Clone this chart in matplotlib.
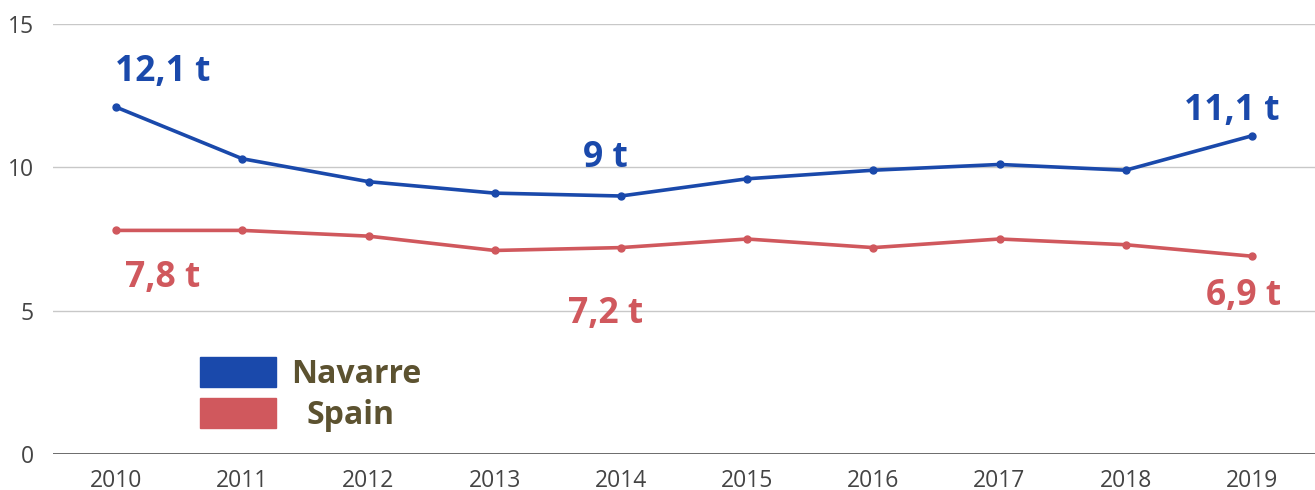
import matplotlib
matplotlib.use("Agg")
import matplotlib.pyplot as plt
from matplotlib.patches import Rectangle

years = ["2010", "2011", "2012", "2013", "2014", "2015", "2016", "2017", "2018", "2019"]
navarre = [12.1, 10.3, 9.5, 9.1, 9.0, 9.6, 9.9, 10.1, 9.9, 11.1]
spain = [7.8, 7.8, 7.6, 7.1, 7.2, 7.5, 7.2, 7.5, 7.3, 6.9]

# which points get a value label, and the label centre offset (points)
navarre_labels = {0: (33.5, 25.5), 4: (-11, 27.5), 9: (-14.5, 17.5)}
spain_labels = {0: (33.5, -34.5), 4: (-11, -47.5), 9: (-6, -28.5)}

BLUE = "#1a49ab"
RED = "#d0585d"
LEGEND_TXT = "#5c5230"

plt.rcParams["font.family"] = ["Open Sans", "DejaVu Sans"]

fig = plt.figure(figsize=(13.15, 4.9), dpi=100)
ax = fig.add_axes([53 / 1315, 36 / 490, 1 - 53 / 1315, (454 - 24) / 490])

x = list(range(len(years)))
ax.plot(x, navarre, color=BLUE, lw=2.6, marker="o", ms=5, zorder=3)
ax.plot(x, spain, color=RED, lw=2.6, marker="o", ms=5, zorder=3)

def fmt(v):
    s = ("%.1f" % v).rstrip("0").rstrip(".")
    return s.replace(".", ",") + " t"

for series, labels, col in ((navarre, navarre_labels, BLUE), (spain, spain_labels, RED)):
    for i, (dx, dy) in labels.items():
        ax.annotate(fmt(series[i]), (i, series[i]), xytext=(dx, dy), textcoords="offset points",
                    ha="center", va="center", fontsize=25.5, fontweight="bold", color=col)

ax.set_xlim(-0.5, len(years) - 0.5)
ax.set_ylim(0, 15)
ax.set_yticks([0, 5, 10, 15])
ax.set_xticks(x)
ax.set_xticklabels(years)
ax.tick_params(axis="both", length=0, labelsize=16.5, colors="#444444")
ax.tick_params(axis="x", pad=10.5)
ax.tick_params(axis="y", pad=14)

for s in ax.spines.values():
    s.set_visible(False)
ax.grid(axis="y", color="#c8c8c8", lw=1)
ax.axhline(0, color="#555555", lw=1.2, zorder=2)
ax.set_axisbelow(True)

# legend drawn by hand in figure pixels
for (y0, col, name, tx) in ((357, BLUE, "Navarre", 356), (398, RED, "Spain", 351)):
    fig.patches.append(Rectangle((200 / 1315, 1 - (y0 + 30) / 490), 76 / 1315, 30 / 490,
                                 transform=fig.transFigure, color=col))
    fig.text(tx / 1315, 1 - (y0 + 17) / 490, name, fontsize=23, fontweight="bold",
             color=LEGEND_TXT, va="center", ha="center")

fig.savefig("out.png", dpi=100)
